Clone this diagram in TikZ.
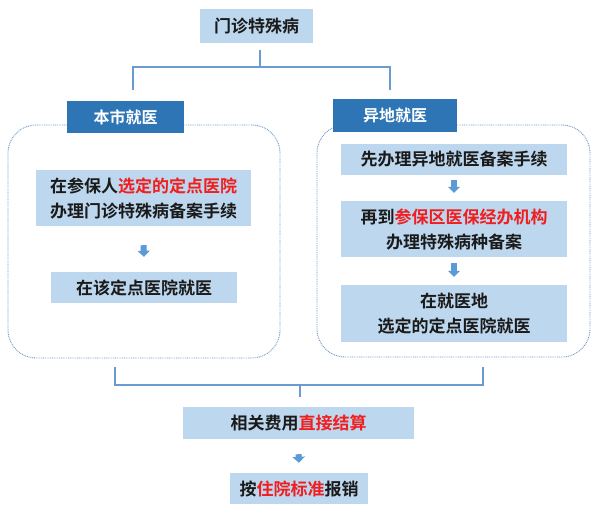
\documentclass[tikz,border=0pt]{standalone}
\usepackage{fontspec}
\setmainfont{Noto Sans CJK SC}[BoldFont=* Bold]
\usetikzlibrary{arrows.meta}
\definecolor{lightbl}{HTML}{BDD7EE}
\definecolor{darkbl}{HTML}{2E75B6}
\definecolor{dotbl}{HTML}{6F98C8}
\definecolor{linebl}{HTML}{6A9BD1}
\definecolor{arrbl}{HTML}{5B9BD5}
\definecolor{redt}{HTML}{F01E1E}
\definecolor{txt}{HTML}{1A1A1A}
\begin{document}
\begin{tikzpicture}[x=1pt,y=-1pt,
 box/.style={fill=lightbl, inner sep=0pt, align=center, font=\fontsize{17}{25}\selectfont\bfseries, text=txt},
 hdr/.style={fill=darkbl, text=white, inner sep=0pt, font=\fontsize{16}{20}\selectfont\bfseries},
 grp/.style={draw=dotbl, dash pattern=on 0.9pt off 0.9pt, line width=0.9pt, rounded corners=28pt, inner sep=0pt},
 conn/.style={draw=linebl, line width=1.2pt},
 flow/.style={draw=arrbl, line width=6pt, -{Triangle[width=12pt,length=6pt]}},
]
\useasboundingbox[fill=white] (0,0) rectangle (600,517);
% groups
\node[grp, minimum width=272pt, minimum height=233pt] (lg) at (144,241.5) {};
\node[grp, minimum width=273pt, minimum height=232pt] (rg) at (453.5,241) {};
% top
\node[box, minimum width=113pt, minimum height=34pt] (top) at (256.5,26) {门诊特殊病};
\node[hdr, minimum width=117pt, minimum height=32pt] (bsj) at (125.5,117) {本市就医};
\node[hdr, minimum width=124pt, minimum height=33pt] (ydj) at (395,115.5) {异地就医};
% left
\node[box, minimum width=215pt, minimum height=56pt] (L1) at (143.5,198) {在参保人\textcolor{redt}{选定的定点医院}\\办理门诊特殊病备案手续};
\node[box, minimum width=186pt, minimum height=31pt] (L2) at (144,287.5) {在该定点医院就医};
% right
\node[box, minimum width=226pt, minimum height=31pt] (R1) at (454,159.5) {先办理异地就医备案手续};
\node[box, minimum width=226pt, minimum height=56pt] (R2) at (454,229) {再到\textcolor{redt}{参保区医保经办机构}\\办理特殊病种备案};
\node[box, minimum width=226pt, minimum height=57pt] (R3) at (454,313.5) {在就医地\\选定的定点医院就医};
% bottom
\node[box, minimum width=231pt, minimum height=32pt] (F1) at (298.5,423) {相关费用\textcolor{redt}{直接结算}};
\node[box, minimum width=138pt, minimum height=31pt] (F2) at (299,488.5) {按\textcolor{redt}{住院标准}报销};
% bracket top
\coordinate (t0) at (260,50);
\coordinate (t1) at (260,67);
\coordinate (tl) at (133,90);
\coordinate (tr) at (390,90);
\draw[conn] (t0) -- (t1);
\draw[conn] (tl) |- (t1) -| (tr);
% bracket bottom
\coordinate (b0) at (300,385);
\coordinate (b1) at (300,397);
\coordinate (bl) at (115,367);
\coordinate (br) at (483,367);
\draw[conn] (bl) |- (b0) -| (br);
\draw[conn] (b0) -- (b1);
% flow arrows
\draw[flow] ([yshift=-19pt]L1.south) -- ([yshift=15pt]L2.north);
\draw[flow] ([yshift=-5pt]R1.south) -- ([yshift=8pt]R2.north);
\draw[flow] ([yshift=-6pt]R2.south) -- ([yshift=8pt]R3.north);
\draw[flow] ([yshift=-15pt]F1.south) -- ([yshift=10pt]F2.north);
\end{tikzpicture}
\end{document}
